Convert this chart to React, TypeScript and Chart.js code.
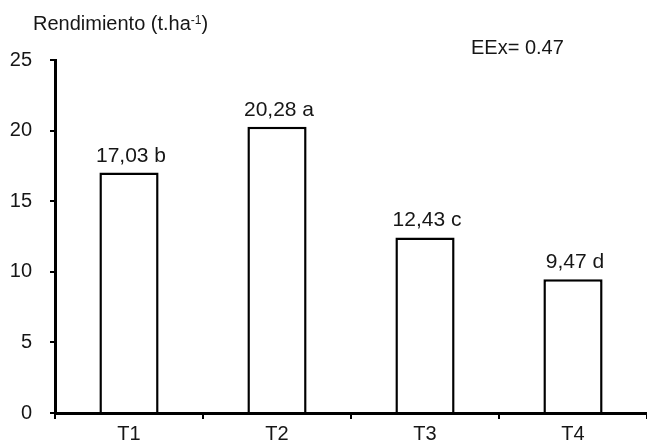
import React, { useEffect, useRef } from "react";
import { Chart, registerables } from "chart.js";

Chart.register(...registerables);

const categories = ["T1", "T2", "T3", "T4"];
const yieldValues = [17.03, 20.28, 12.43, 9.47];
const letters = ["b", "a", "c", "d"];
const yTicks = [0, 5, 10, 15, 20, 25];
const titleMain = "Rendimiento (t.ha";
const titleSup = "-1";
const titleEnd = ")";
const errorNote = "EEx= 0.47";

const FONT = "'Liberation Sans', Arial, sans-serif";
const TEXT = "#161616";

const textPlugin = {
  id: "texts",
  afterDatasetsDraw(chart: any) {
    const ctx = chart.ctx;
    ctx.save();
    ctx.fillStyle = TEXT;
    ctx.font = `21px ${FONT}`;
    ctx.textAlign = "center";
    ctx.textBaseline = "alphabetic";
    const meta = chart.getDatasetMeta(0);
    meta.data.forEach((el: any, i: number) => {
      const label = yieldValues[i].toFixed(2).replace(".", ",") + " " + letters[i];
      ctx.fillText(label, el.x + 2, el.y - 11);
    });
    ctx.textAlign = "left";
    ctx.font = `20px ${FONT}`;
    let x = 33;
    ctx.fillText(titleMain, x, 30);
    x += ctx.measureText(titleMain).width;
    ctx.font = `12px ${FONT}`;
    ctx.fillText(titleSup, x, 24);
    x += ctx.measureText(titleSup).width;
    ctx.font = `20px ${FONT}`;
    ctx.fillText(titleEnd, x, 30);
    ctx.fillText(errorNote, 471, 54);
    ctx.restore();
  },
};

export default function App() {
  const ref = useRef<HTMLCanvasElement>(null);
  useEffect(() => {
    if (!ref.current) return;
    const chart = new Chart(ref.current, {
      type: "bar",
      data: {
        labels: categories,
        datasets: [
          {
            data: yieldValues,
            backgroundColor: "#ffffff",
            borderColor: "#000000",
            borderWidth: 2.5,
            barPercentage: 0.4,
            categoryPercentage: 1,
          },
        ],
      },
      options: {
        responsive: false,
        animation: false,
        layout: { padding: { top: 60, left: 0, right: 0, bottom: 0 } },
        plugins: { legend: { display: false }, tooltip: { enabled: false }, title: { display: false } },
        scales: {
          x: {
            offset: true,
            grid: { drawOnChartArea: false, offset: true, tickLength: 6, color: "#000", lineWidth: 2 },
            border: { color: "#000", width: 3 },
            ticks: { color: TEXT, font: { size: 20, family: FONT }, padding: 3 },
            afterFit: (s: any) => { s.height = 30; },
          },
          y: {
            min: 0,
            max: 25,
            afterBuildTicks: (s: any) => { s.ticks = yTicks.map((v) => ({ value: v })); },
            grid: { drawOnChartArea: false, tickLength: 5, color: "#000", lineWidth: 2 },
            border: { color: "#000", width: 3 },
            ticks: { color: TEXT, font: { size: 20, family: FONT }, padding: 18 },
            afterFit: (s: any) => { s.width = 55; },
          },
        },
      },
      plugins: [textPlugin],
    });
    return () => chart.destroy();
  }, []);
  return (
    <div style={{ position: "fixed", left: 0, top: 0, width: 647, height: 443, background: "#fff" }}>
      <canvas ref={ref} width={647} height={443} />
    </div>
  );
}
